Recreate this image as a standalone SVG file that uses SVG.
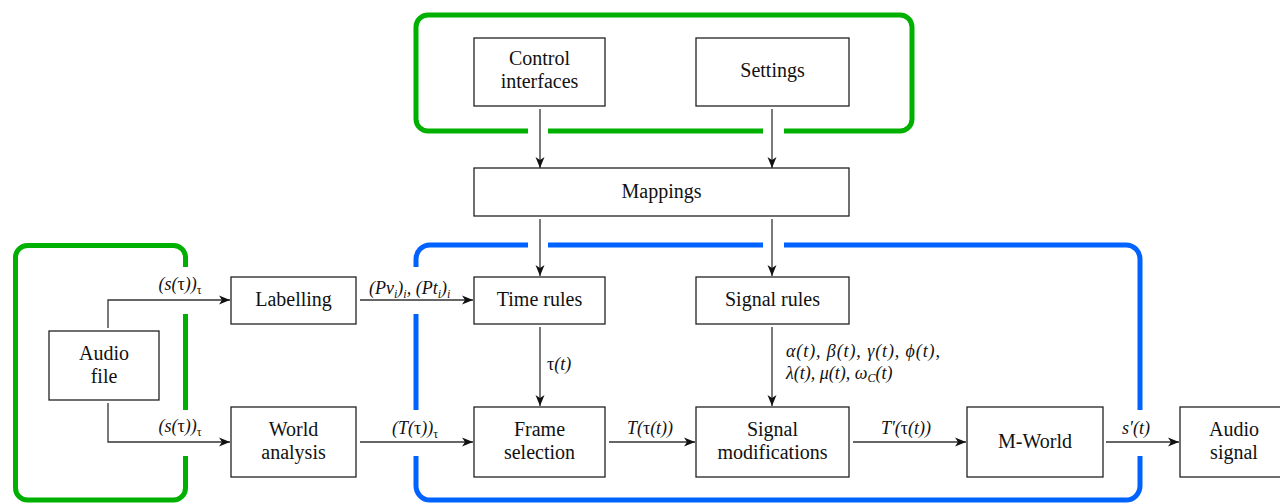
<svg xmlns="http://www.w3.org/2000/svg" width="1280" height="504" viewBox="0 0 1280 504">
<style>
.bx{fill:#fff;stroke:#222;stroke-width:1.3}
.nt{font-family:'Liberation Serif','Tinos','Times New Roman','DejaVu Serif',serif;font-size:20px;fill:#111;text-anchor:middle}
.lb{font-family:'Liberation Serif','Tinos','Times New Roman','DejaVu Serif',serif;font-size:18px;font-style:italic;fill:#111}
.up{font-style:normal}
.sb{font-size:12px}
.cn{fill:none;stroke:#333;stroke-width:1.3}
.gr{fill:none;stroke:#00b000;stroke-width:5}
.bl{fill:none;stroke:#0062ff;stroke-width:5}
</style>
<defs>
<marker id="ar" markerUnits="userSpaceOnUse" markerWidth="14" markerHeight="12" viewBox="-11 -6 12 12" refX="0" refY="0" orient="auto">
<path d="M0,0 L-11,-4.5 L-8,0 L-11,4.5 Z" fill="#111"/>
</marker>
</defs>
<rect width="1280" height="504" fill="#fff"/>
<g id="frames">
<path class="gr" d="M 528 131 H 428 A 12 12 0 0 1 416 119 V 27 A 12 12 0 0 1 428 15 H 900 A 12 12 0 0 1 912 27 V 119 A 12 12 0 0 1 900 131 H 784 M 763 131 H 548"/>
<path class="gr" d="M 185.5 267 V 257.5 A 12 12 0 0 0 173.5 245.5 H 27.5 A 12 12 0 0 0 15.5 257.5 V 488 A 12 12 0 0 0 27.5 500 H 173.5 A 12 12 0 0 0 185.5 488 V 456 M 185.5 314 V 410"/>
<path class="bl" d="M 528 245 H 430 A 14 14 0 0 0 416 259 V 267 M 416 314 V 410 M 416 456 V 486 A 14 14 0 0 0 430 500 H 1126 A 14 14 0 0 0 1140 486 V 456 M 1140 410 V 259 A 14 14 0 0 0 1126 245 H 784 M 763 245 H 548"/>
</g>
<g id="connectors">
<path class="cn" marker-end="url(#ar)" d="M540 109 V 168"/>
<path class="cn" marker-end="url(#ar)" d="M772 109 V 168"/>
<path class="cn" marker-end="url(#ar)" d="M540 219 V 276"/>
<path class="cn" marker-end="url(#ar)" d="M772 219 V 276"/>
<path class="cn" marker-end="url(#ar)" d="M108 328 V 300 H 230"/>
<path class="cn" marker-end="url(#ar)" d="M108 403 V 442 H 230"/>
<path class="cn" marker-end="url(#ar)" d="M360 300 H 473"/>
<path class="cn" marker-end="url(#ar)" d="M360 442 H 473"/>
<path class="cn" marker-end="url(#ar)" d="M540 327 V 406"/>
<path class="cn" marker-end="url(#ar)" d="M772 327 V 406"/>
<path class="cn" marker-end="url(#ar)" d="M609 442 H 695"/>
<path class="cn" marker-end="url(#ar)" d="M853 442 H 966"/>
<path class="cn" marker-end="url(#ar)" d="M1106 442 H 1179"/>
<text class="lb" x="180" y="290" text-anchor="middle">(s(<tspan class="up">τ</tspan>))<tspan class="sb up" dy="4">τ</tspan></text>
<text class="lb" x="180" y="432" text-anchor="middle">(s(<tspan class="up">τ</tspan>))<tspan class="sb up" dy="4">τ</tspan></text>
<text class="lb" x="369" y="294">(Pv<tspan class="sb" dy="4">i</tspan><tspan dy="-4">)</tspan><tspan class="sb" dy="4">i</tspan><tspan dy="-4">, (Pt</tspan><tspan class="sb" dy="4">i</tspan><tspan dy="-4">)</tspan><tspan class="sb" dy="4">i</tspan></text>
<text class="lb" x="415" y="434" text-anchor="middle">(T(<tspan class="up">τ</tspan>))<tspan class="sb up" dy="4">τ</tspan></text>
<text class="lb" x="650" y="434" text-anchor="middle">T(<tspan class="up">τ</tspan>(t))</text>
<text class="lb" x="906" y="434" text-anchor="middle">T′(<tspan class="up">τ</tspan>(t))</text>
<text class="lb" x="1136" y="434" text-anchor="middle">s′(t)</text>
<text class="lb" x="547" y="370"><tspan class="up">τ</tspan>(t)</text>
<text class="lb" x="786" y="357" textLength="154" lengthAdjust="spacing">α(t), β(t), γ(t), ϕ(t),</text>
<text class="lb" x="786" y="379">λ(t), μ(t), ω<tspan class="sb" dy="3">C</tspan><tspan dy="-3">(t)</tspan></text>
</g>
<g id="control"><rect class="bx" x="474" y="38" width="131" height="68"/><text class="nt" x="539.5" y="65">Control</text><text class="nt" x="539.5" y="88">interfaces</text></g>
<g id="settings"><rect class="bx" x="696" y="38" width="153" height="68"/><text class="nt" x="772.5" y="77">Settings</text></g>
<g id="mappings"><rect class="bx" x="474" y="168" width="375" height="48"/><text class="nt" x="661.5" y="198">Mappings</text></g>
<g id="audiofile"><rect class="bx" x="49" y="331" width="110" height="69"/><text class="nt" x="104" y="360">Audio</text><text class="nt" x="104" y="383">file</text></g>
<g id="labelling"><rect class="bx" x="231" y="277" width="125" height="47"/><text class="nt" x="293.5" y="306">Labelling</text></g>
<g id="timerules"><rect class="bx" x="474" y="277" width="131" height="47"/><text class="nt" x="539.5" y="306">Time rules</text></g>
<g id="signalrules"><rect class="bx" x="696" y="277" width="153" height="47"/><text class="nt" x="772.5" y="306">Signal rules</text></g>
<g id="world"><rect class="bx" x="231" y="407" width="125" height="70"/><text class="nt" x="293.5" y="436">World</text><text class="nt" x="293.5" y="459">analysis</text></g>
<g id="frame"><rect class="bx" x="474" y="407" width="131" height="70"/><text class="nt" x="539.5" y="436">Frame</text><text class="nt" x="539.5" y="459">selection</text></g>
<g id="sigmod"><rect class="bx" x="696" y="407" width="153" height="70"/><text class="nt" x="772.5" y="436">Signal</text><text class="nt" x="772.5" y="459">modifications</text></g>
<g id="mworld"><rect class="bx" x="967" y="407" width="136" height="70"/><text class="nt" x="1035" y="448">M-World</text></g>
<g id="audiosignal"><rect class="bx" x="1180" y="407" width="110" height="70"/><text class="nt" x="1234" y="436">Audio</text><text class="nt" x="1234" y="459">signal</text></g>
</svg>
